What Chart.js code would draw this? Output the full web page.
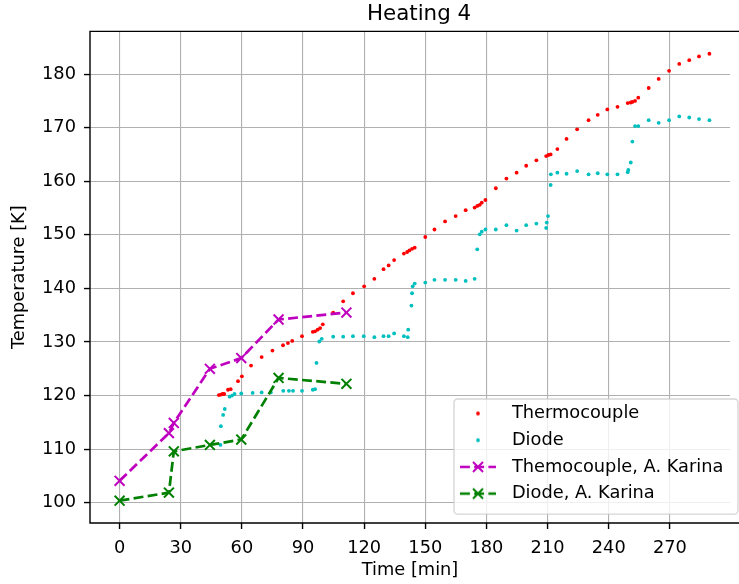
<!DOCTYPE html>
<html><head><meta charset="utf-8">
<script src="https://cdn.jsdelivr.net/npm/chart.js@4.4.1/dist/chart.umd.min.js"></script>
<style>
html,body{margin:0;padding:0;background:#fff;overflow:hidden;}
canvas{display:block;}
</style></head><body>
<canvas id="c" width="739" height="584"></canvas>
<script>
// ---- data ----
const tcTime = [48.7, 49.7, 50.5, 51.3, 53.2, 54.5, 58.1, 60.0, 64.5, 69.7, 75.0, 80.2, 82.6, 84.7, 89.5, 94.8, 95.9, 97.2, 98.4, 99.7, 104.8, 109.7, 114.5, 120.0, 125.0, 129.5, 132.0, 134.7, 139.5, 141.1, 142.2, 143.5, 144.8, 150.0, 154.5, 159.7, 164.9, 169.8, 174.2, 175.5, 176.7, 177.7, 179.5, 184.6, 189.8, 194.8, 199.5, 204.5, 209.3, 210.4, 211.5, 214.8, 219.3, 224.5, 230.1, 234.6, 239.3, 244.3, 249.3, 250.8, 251.6, 252.9, 254.5, 259.6, 264.5, 269.6, 274.6, 279.5, 284.3, 289.4];
const tcTemp = [120.1, 120.2, 120.3, 120.3, 121.1, 121.2, 122.7, 123.6, 125.6, 127.2, 128.4, 129.4, 129.8, 130.2, 131.1, 131.9, 132.0, 132.3, 132.6, 133.3, 135.5, 137.6, 139.1, 140.4, 141.8, 143.6, 144.3, 145.3, 146.5, 146.8, 147.1, 147.4, 147.6, 149.6, 151.0, 152.5, 153.5, 154.6, 155.1, 155.4, 155.6, 156.0, 156.5, 158.7, 160.5, 161.6, 162.9, 163.9, 164.7, 164.9, 165.0, 166.0, 167.9, 169.7, 171.4, 172.4, 173.4, 173.9, 174.6, 174.7, 174.8, 175.0, 175.6, 177.4, 179.1, 180.6, 181.9, 182.6, 183.3, 183.8];

const diodeTime = [49.5, 49.7, 50.8, 51.6, 54.0, 55.2, 56.4, 59.7, 65.3, 69.7, 74.2, 80.3, 83.1, 85.1, 89.5, 94.8, 95.9, 96.6, 98.0, 99.2, 104.8, 109.7, 114.5, 119.8, 125.0, 129.5, 132.0, 134.7, 139.5, 141.4, 141.6, 143.2, 143.5, 143.8, 144.8, 150.0, 154.5, 159.7, 164.9, 169.8, 174.2, 175.5, 176.7, 177.7, 179.5, 184.6, 189.8, 194.8, 199.5, 204.5, 209.3, 209.6, 210.2, 211.5, 211.6, 214.8, 219.3, 224.5, 230.1, 234.6, 239.3, 244.3, 249.3, 249.6, 250.8, 251.6, 252.9, 254.5, 259.6, 264.5, 269.6, 274.6, 279.5, 284.3, 289.4];
const diodeTemp = [110.8, 114.3, 116.4, 117.5, 119.8, 120.0, 120.3, 120.4, 120.5, 120.6, 120.6, 120.9, 120.9, 120.9, 120.9, 121.1, 121.2, 126.1, 130.1, 130.6, 131.0, 131.0, 131.1, 131.1, 130.9, 131.1, 131.1, 131.6, 131.1, 130.9, 132.3, 136.8, 139.1, 140.4, 140.9, 141.1, 141.6, 141.6, 141.6, 141.4, 141.8, 147.3, 150.1, 150.6, 151.0, 151.0, 151.8, 150.8, 151.8, 152.1, 151.3, 152.3, 153.5, 159.3, 161.3, 161.6, 161.4, 161.9, 161.3, 161.5, 161.3, 161.3, 161.7, 162.1, 163.5, 167.4, 170.3, 170.3, 171.4, 170.9, 171.4, 172.1, 171.9, 171.6, 171.4];

const karinaTime = [0, 24.2, 26.6, 44.3, 59.7, 78.0, 111.3];
const karinaTcTemp = [104.1, 113.0, 114.9, 125.0, 127.0, 134.2, 135.5];
const karinaDiodeTemp = [100.4, 101.9, 109.6, 110.8, 111.8, 123.3, 122.2];

const seriesLabels = ['Thermocouple', 'Diode', 'Themocouple, A. Karina', 'Diode, A. Karina'];
const xTicks = [0, 30, 60, 90, 120, 150, 180, 210, 240, 270];
const yTicks = [100, 110, 120, 130, 140, 150, 160, 170, 180];
const xLimits = [-14.52, 299.5];   // visible part of the x range (axes run past the right edge)
const yLimits = [96.23, 187.97];
const chartTitle = 'Heating 4';
const xTitle = 'Time [min]';
const yTitle = 'Temperature [K]';

// ---- styles ----
const RED = '#ff0000', CYAN = '#00bfbf', MAG = '#bf00bf', GREEN = '#008000';
const FS = 17.8;
const FAMILY = "'DejaVu Sans', sans-serif";
const DASH = [9.9, 4.3];

function pts(xs, ys) { return xs.map((x, i) => ({x: x, y: ys[i]})); }

function handleImg(color, kind) {
  const c = document.createElement('canvas');
  c.width = 43; c.height = 18;
  const g = c.getContext('2d');
  if (kind === 'dot') {
    g.fillStyle = color; g.beginPath(); g.arc(18, 9, 1.9, 0, Math.PI * 2); g.fill();
  } else {
    g.strokeStyle = color; g.lineWidth = 2.7; g.setLineDash(DASH);
    g.beginPath(); g.moveTo(0, 9); g.lineTo(36, 9); g.stroke();
    g.setLineDash([]); g.lineWidth = 2; const r = 5;
    g.beginPath(); g.moveTo(18 - r, 9 - r); g.lineTo(18 + r, 9 + r);
    g.moveTo(18 - r, 9 + r); g.lineTo(18 + r, 9 - r); g.stroke();
  }
  return c;
}
const handles = [handleImg(RED, 'dot'), handleImg(CYAN, 'dot'), handleImg(MAG, 'line'), handleImg(GREEN, 'line')];

Chart.defaults.font.family = FAMILY;
Chart.defaults.font.size = FS;
Chart.defaults.color = '#000';

const placeBoxes = {
  id: 'placeBoxes',
  afterLayout(chart) {
    // title centred over the full (uncropped) axes width
    const tb = chart.titleBlock, ca = chart.chartArea;
    if (tb) { tb.left = ca.left; tb.right = ca.left + 658; tb.width = 658; }
    // legend in the lower right corner of the axes
    const lg = chart.legend, pad = FS / 2;
    lg.left = 460 - pad; lg.top = 404.6 - pad;
    lg.right = chart.width; lg.bottom = lg.top + pad + 4 * (FS + pad) + 2;
    lg.width = lg.right - lg.left; lg.height = lg.bottom - lg.top;
    if (!lg._framed) {
      const orig = lg.draw.bind(lg);
      lg.draw = function (area) {
        const ctx = chart.ctx, a = chart.chartArea;
        const fx = 454, fy = 399, fr = 738, fb = a.bottom - FS / 2;
        ctx.save();
        ctx.beginPath();
        ctx.roundRect(fx, fy, fr - fx, fb - fy, 3.5);
        ctx.fillStyle = 'rgba(255,255,255,0.8)'; ctx.fill();
        ctx.lineWidth = 1.4; ctx.strokeStyle = 'rgba(204,204,204,0.8)'; ctx.stroke();
        ctx.restore();
        orig(area);
      };
      lg._framed = true;
    }
  }
};

const spines = {
  id: 'spines',
  afterDatasetsDraw(chart) {
    const {ctx, chartArea: a} = chart;
    ctx.save(); ctx.strokeStyle = '#000'; ctx.lineWidth = 1.4;
    ctx.beginPath();
    ctx.moveTo(chart.width + 2, a.top); ctx.lineTo(a.left, a.top);
    ctx.lineTo(a.left, a.bottom); ctx.lineTo(chart.width + 2, a.bottom);
    ctx.stroke();
    ctx.restore();
  }
};

new Chart(document.getElementById('c'), {
  type: 'scatter',
  data: {
    datasets: [
      { label: seriesLabels[0], data: pts(tcTime, tcTemp), showLine: false,
        pointStyle: 'circle', pointRadius: 1.9, pointBorderWidth: 0,
        pointBackgroundColor: RED, backgroundColor: RED, borderColor: RED, order: 2 },
      { label: seriesLabels[1], data: pts(diodeTime, diodeTemp), showLine: false,
        pointStyle: 'circle', pointRadius: 1.9, pointBorderWidth: 0,
        pointBackgroundColor: CYAN, backgroundColor: CYAN, borderColor: CYAN, order: 2 },
      { label: seriesLabels[2], data: pts(karinaTime, karinaTcTemp), showLine: true,
        borderColor: MAG, borderWidth: 2.7, borderDash: DASH, backgroundColor: MAG,
        pointStyle: 'crossRot', pointRadius: 7, pointBorderWidth: 2, pointBorderColor: MAG, order: 1 },
      { label: seriesLabels[3], data: pts(karinaTime, karinaDiodeTemp), showLine: true,
        borderColor: GREEN, borderWidth: 2.7, borderDash: DASH, backgroundColor: GREEN,
        pointStyle: 'crossRot', pointRadius: 7, pointBorderWidth: 2, pointBorderColor: GREEN, order: 0 }
    ]
  },
  options: {
    responsive: false, animation: false, devicePixelRatio: 1,
    layout: { padding: 0 },
    events: [],
    scales: {
      x: {
        type: 'linear', min: xLimits[0], max: xLimits[1],
        afterBuildTicks: s => { s.ticks = xTicks.map(v => ({value: v})); },
        afterFit: s => { s.height = 61; s.paddingLeft = 0; s.paddingRight = 0; },
        ticks: { autoSkip: false, maxRotation: 0, padding: 9, color: '#000', font: {size: FS} },
        grid: { color: '#b0b0b0', lineWidth: 1.1, tickColor: '#000', tickLength: 6, tickWidth: 1.4 },
        border: { display: false },
        title: { display: true, text: xTitle, color: '#000', font: {size: FS}, padding: {top: 0, bottom: 3} }
      },
      y: {
        type: 'linear', min: yLimits[0], max: yLimits[1],
        afterBuildTicks: s => { s.ticks = yTicks.map(v => ({value: v})); },
        afterFit: s => { s.width = 90; },
        ticks: { autoSkip: false, padding: 8, color: '#000', font: {size: FS} },
        grid: { color: '#b0b0b0', lineWidth: 1.1, tickColor: '#000', tickLength: 6, tickWidth: 1.4 },
        border: { display: false },
        title: { display: true, text: yTitle, color: '#000', font: {size: FS}, padding: {top: 9, bottom: 0} }
      }
    },
    plugins: {
      title: { display: true, text: chartTitle, fullSize: false, color: '#000',
               font: {size: 21.4, weight: 'normal'}, padding: {top: 1.5, bottom: 4.2} },
      tooltip: { enabled: false },
      legend: {
        display: true, position: 'chartArea', align: 'start',
        labels: {
          usePointStyle: true, pointStyleWidth: 43, padding: FS / 2, color: '#000',
          font: {size: FS},
          generateLabels: chart => chart.data.datasets.map((d, i) => ({
            text: d.label, datasetIndex: i, hidden: false, pointStyle: handles[i],
            fillStyle: 'transparent', strokeStyle: 'transparent', lineWidth: 0, fontColor: '#000'
          }))
        }
      }
    }
  },
  plugins: [placeBoxes, spines]
});
</script>
</body></html>
